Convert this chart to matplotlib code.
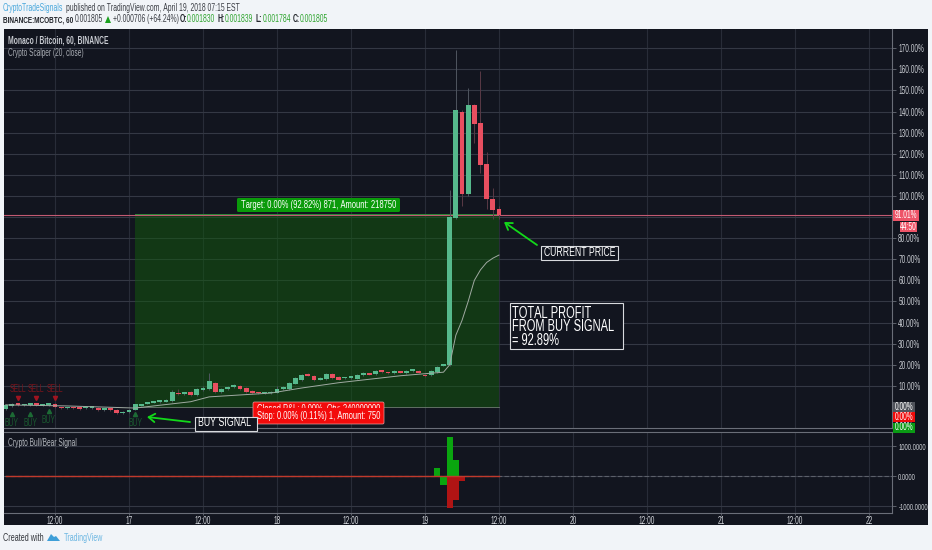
import matplotlib
matplotlib.use("Agg")
import matplotlib.pyplot as plt
from matplotlib.patches import Rectangle, FancyBboxPatch, Polygon
from matplotlib import font_manager as fm

# the reference text is strongly condensed: build a narrow face from Liberation Sans
def make_narrow(style, path, scale=.68):
    from fontTools.ttLib import TTFont
    from fontTools.ttLib.tables._g_l_y_f import GlyphCoordinates
    src = fm.findfont(fm.FontProperties(family='Liberation Sans', weight=style), fallback_to_default=False)
    f = TTFont(src)
    glyf = f['glyf']
    for name in glyf.keys():
        g = glyf[name]
        if g.isComposite():
            for comp in g.components:
                comp.x = int(comp.x * scale)
        elif g.numberOfContours > 0:
            g.coordinates = GlyphCoordinates([(int(x * scale), y) for x, y in g.coordinates])
            g.program = type(g.program)() if hasattr(g, 'program') else None
            g.program.fromBytecode(b'')
    hm = f['hmtx'].metrics
    for name, (adv, lsb) in list(hm.items()):
        hm[name] = (int(adv * scale), int(lsb * scale))
    for tab in ('fpgm', 'prep', 'cvt ', 'hdmx', 'VDMX', 'LTSH', 'kern', 'GPOS', 'GSUB', 'GDEF'):
        if tab in f:
            del f[tab]
    nm = f['name']
    nm.names = [n for n in nm.names if n.nameID not in (16, 17, 21, 22)]
    for n in list(nm.names):
        if n.nameID == 1:
            n.string = 'TVNarrow'
        elif n.nameID == 4:
            n.string = 'TVNarrow ' + style
        elif n.nameID == 6:
            n.string = 'TVNarrow-' + style
    f.save(path)
    fm.fontManager.addfont(path)

try:
    make_narrow('regular', 'tvnarrow.ttf')
    make_narrow('bold', 'tvnarrow-bold.ttf')
    FONT = 'TVNarrow'
    SC = 1.0
except Exception:
    FONT = 'Lato'
    SC = .72
plt.rcParams['font.family'] = [FONT, 'DejaVu Sans']

# ---------- data ----------
hours = list(range(-20, 61))
opens = [-1, .5, 1.4, .8, .9, 1.5, .7, .9, 1.6, -.1, -.7, -.2, -.3, -.6, -.5, -.3, -1.4, -1.2, -1.4, -3, -2.5,
         -1.2, .6, 1.5, 2, 2.3, 2.6, 2.8, 6.6, 6.2, 7, 5.8, 8, 8.5, 11.4, 7, 8.5, 9.5, 10, 9, 7.5,
         6.6, 6.5, 6.5, 6.7, 8.5, 8.5, 11, 12.8, 15, 14.7, 13, 13.3, 15.6, 14.3, 13.6, 13.8, 13.5, 15, 15.7, 15.5,
         17, 16.4, 16, 16.8, 16, 17, 17.2, 15.3, 15, 16.5, 19.5, 20, 89.5, 140, 101, 143, 134.6, 115, 98.6, 94]
closes = [1, 1.6, 1, 1.2, 1.4, .9, 1.2, 1.2, -.2, -.6, -.2, -.7, -.8, -.1, -.2, -1.6, -1, -1.5, -2.8, -2.5, -1.2,
          1.2, 1.3, 2.2, 2.6, 3, 3.2, 7, 6, 6.7, 5.8, 8.5, 9, 12.3, 7, 8.5, 9.5, 10, 8.5, 7, 6.5,
          6.4, 6.8, 7, 8.5, 9.5, 11.4, 13.7, 15, 14.9, 12.8, 13.7, 15.6, 13.8, 13, 14, 14.2, 15, 16, 15.3, 17,
          16.5, 16, 17, 16.2, 17.2, 17.2, 16.2, 14.5, 17, 19, 20, 90, 140.8, 101, 143, 134, 114.7, 98.6, 93.4, 91]
highs = [1.5, 2, 1.8, 1.5, 1.8, 2, 1.6, 1.8, 2, 0, 0, 0, 0, .3, .2, 0, -.6, -.9, -1, -2, -.8,
         1.6, 1.6, 2.6, 3, 3.4, 3.6, 8, 8.5, 7.2, 7.4, 9, 10, 16, 12, 9, 10, 11, 10.5, 9.5, 8,
         7, 7.2, 7.6, 10, 10, 12, 14.2, 15.6, 16, 15.2, 14.2, 16.2, 16, 14.8, 14.4, 14.6, 15.5, 16.5, 16.2, 17.4,
         17.4, 16.8, 17.4, 17.2, 17.6, 17.6, 17.6, 15.6, 17.4, 19.4, 20.4, 103, 169, 140.5, 151, 143.5, 159, 121, 104, 95]
lows = [-1.5, .2, .6, .5, .6, .5, .3, .5, -.6, -.9, -1, -1, -1.2, -1, -.8, -2, -1.7, -1.8, -3.2, -3.3, -2.8,
        -1.6, .3, 1.2, 1.7, 2, 2.3, 2.5, 5.6, 5.8, 5.4, 5.4, 7.6, 8, 6.5, 6.6, 8.2, 9.2, 8.2, 6.6, 6.1,
        6, 6.2, 6.2, 6.4, 8.2, 8.2, 10.7, 12.4, 14.6, 12.4, 12.7, 13, 13.4, 12.7, 13.3, 13.5, 13.2, 14.7, 15, 15.2,
        16.2, 15.7, 15.7, 15.9, 15.7, 16.7, 15.9, 14.2, 14.6, 16.2, 19.2, 19.6, 89, 95, 100, 125, 111, 94, 89, 89]
signal_h = [-20, -10, 1, 10, 13, 23, 28, 34, 44, 51, 52, 53, 54, 55, 56, 57, 58, 59, 60]
signal_pct = [1, .5, -.5, 2.5, 4.8, 6.6, 9, 11.5, 14.8, 16.5, 20, 34, 41, 50, 60, 65, 68.5, 70.5, 72]
bar_h = [50, 51, 52, 53, 54]
bull = [280, -300, 1300, 530, 0]
bear = [0, 0, -1050, -800, -170]
line_h = [-20, 60]
line_v = [0, 0]
sell_h = [-18, -15, -12]
buy_h = [-19, -16, -13, 1]
buy_levels = [-3.5, -3.5, -2, -3.5]
entry_h, exit_h = 1, 60
target_pct, entry_pct, current_pct = 91.01, 0, 91.01
y_ticks = list(range(10, 180, 10))
y_labels = ['' if v == 90 else f'{v}.00%' for v in y_ticks]
sub_ticks = [-1000, 0, 1000]
x_ticks = [-12, 0, 12, 24, 36, 48, 60, 72, 84, 96, 108, 120]
x_labels = ['12:00', '17', '12:00', '18', '12:00', '19', '12:00', '20', '12:00', '21', '12:00', '22']

# ---------- layout helpers ----------
W, H = 932, 550
UP, DOWN = '#56b98c', '#e84f60'
BG, GRID, HGRID = '#12151f', '#282c38', '#343844'
TXT = '#c9ccd2'
def rect(l, t, r, b):
    return [l / W, 1 - b / H, (r - l) / W, (b - t) / H]

fig = plt.figure(figsize=(W / 100, H / 100), dpi=100, facecolor='#f1f4f8')
bgax = fig.add_axes(rect(4, 29, 928, 525), facecolor=BG, zorder=0)
bgax.set_xticks([]); bgax.set_yticks([])
for s in bgax.spines.values():
    s.set_visible(False)

ax = fig.add_axes(rect(4, 29, 892, 428), facecolor='none', zorder=1)
sub = fig.add_axes(rect(4, 432, 892, 512.7), facecolor='none', zorder=1)
XL = (-20.27, 123.73)
ax.set_xlim(*XL); ax.set_ylim(-9.95, 179.1)
sub.set_xlim(*XL); sub.set_ylim(-1223, 1467)

for a in (ax, sub):
    a.spines['left'].set_visible(False)
    for k in ('right', 'bottom', 'top'):
        a.spines[k].set_color('#6a6e78'); a.spines[k].set_linewidth(.8)
    a.yaxis.tick_right()
    a.set_xticks(x_ticks)
    a.grid(True, axis='x', color=GRID, lw=.8, zorder=0)
    a.grid(True, axis='y', color=HGRID, lw=.8, zorder=0)
    a.set_axisbelow(True)
    a.tick_params(axis='y', colors=TXT, labelsize=6.9 * SC, length=3, width=.6, pad=1.5, color='#6a6e78')
ax.spines['top'].set_visible(False)

ax.set_yticks(y_ticks)
ax.set_yticklabels(y_labels)
ax.tick_params(axis='x', length=0, labelbottom=False)
sub.set_yticks(sub_ticks)
sub.set_yticklabels([f'{v}.0000' for v in sub_ticks])
sub.tick_params(axis='y', labelsize=6.2 * SC)
sub.set_xticklabels(x_labels)
sub.tick_params(axis='x', colors='#d5d8dd', labelsize=6.9 * SC, length=1.5, width=.6, pad=.8, color='#6a6e78')

# trade zone
ax.add_patch(Rectangle((entry_h, entry_pct), exit_h - entry_h, target_pct, facecolor='#125b0d', alpha=.5, lw=0, zorder=1))
ax.axhline(current_pct, color='#c25a72', lw=.8, zorder=1.5)
ax.plot([entry_h, exit_h], [target_pct + .6] * 2, color='#2f8a3a', lw=.7, zorder=1.5)
ax.plot([entry_h, exit_h], [entry_pct] * 2, color='#6d7f70', lw=.6, zorder=1.5)

# candles
for h, o, c, hi, lo in zip(hours, opens, closes, highs, lows):
    up = c >= o
    ax.plot([h, h], [lo, hi], color='#4f5660' if up else '#5a3a46', lw=.7, zorder=2, solid_capstyle='butt')
    ax.add_patch(Rectangle((h - .38, min(o, c)), .76, max(abs(c - o), .8), facecolor=UP if up else DOWN, lw=0, zorder=3))
ax.plot(signal_h, signal_pct, color='#a0aaa2', lw=.7, zorder=4)

# buy / sell markers
for h in sell_h:
    ax.plot(h, 4.3, marker='v', ms=3, color='#a01420', zorder=4)
    ax.text(h, 8.6, 'SELL', color='#7a141c', fontsize=7.2 * SC, ha='center', va='center')
for h, lv in zip(buy_h, buy_levels):
    ax.plot(h, lv, marker='^', ms=3, color='#1d6a35', zorder=4)
    ax.text(h, lv - 4.2, 'BUY', color='#1a5a30', fontsize=7.2 * SC, ha='center', va='center')

# lower pane
sub.axhline(0, color='#5c606a', lw=.8, ls=(0, (4, 2)), zorder=1)
sub.bar(bar_h, bull, width=1, color='#0aa50f', zorder=2)
sub.bar(bar_h, bear, width=1, color='#b01414', zorder=2)
sub.plot(line_h, line_v, color='#c0392b', lw=1, zorder=3)

# overlay in pixels for annotations
ov = fig.add_axes([0, 0, 1, 1], facecolor='none', zorder=5)
ov.set_xlim(0, W); ov.set_ylim(H, 0); ov.axis('off')

def T(x, y, s, **k):
    k.setdefault('va', 'center'); k.setdefault('ha', 'left')
    k['fontsize'] = k.get('fontsize', 8) * SC
    return ov.text(x, y, s, **k)

# header
HS = 7.2
T(3, 8, 'CryptoTradeSignals', color='#4aa8dc', fontsize=HS)
T(66, 8, 'published on TradingView.com, April 19, 2018 07:15 EST', color='#3a3d44', fontsize=HS)
T(3, 19.5, 'BINANCE:MCOBTC, 60', color='#22252b', fontsize=6.8, fontweight='bold')
T(75, 19.5, '0.001805', color='#3a3d44', fontsize=HS)
ov.add_patch(Polygon([[105, 23], [111, 23], [108, 16]], color='#1aa01e', lw=0))
T(113, 19.5, '+0.000706 (+64.24%)', color='#3a3d44', fontsize=HS)
xs = [180, 218, 256, 293]
labs = ['O:', 'H:', 'L:', 'C:']
vals = ['0.001830', '0.001839', '0.001784', '0.001805']
for x, l, v in zip(xs, labs, vals):
    T(x, 19.5, l, color='#22252b', fontsize=HS, fontweight='bold')
    T(x + 7, 19.5, v, color='#2fa52f', fontsize=HS)

# pane titles
T(8, 40.5, 'Monaco / Bitcoin, 60, BINANCE', color='#c9ccd2', fontsize=7.1, fontweight='bold')
T(8, 52.5, 'Crypto Scalper (20, close)', color='#a9adb4', fontsize=6.9)
T(8, 443.5, 'Crypto Bull/Bear Signal', color='#b4b8be', fontsize=7)

# footer
T(3, 538, 'Created with', color='#33363c', fontsize=7.7)
ov.add_patch(Polygon([[47, 541], [51, 534], [54, 537], [56, 536], [60, 541]], color='#3f9fd8', lw=0))
T(64, 538, 'TradingView', color='#6db7e2', fontsize=7.5)

# price tags
def tag(x0, x1, y, s, fc, h=10):
    ov.add_patch(Rectangle((x0, y - h / 2), x1 - x0, h, facecolor=fc, lw=0, zorder=6))
    T((x0 + x1) / 2, y, s, color='white', fontsize=7, ha='center', zorder=7)
tag(893, 919, 215, '91.01%', '#ee5468', 11)
tag(900, 917, 226.5, '44:50', '#ee5468', 10)
tag(893, 915, 407, '0.00%', '#50535b', 10)
tag(893, 915, 417, '0.00%', '#f00a0a', 10)
tag(893, 915, 427.5, '0.00%', '#0a9a14', 10)

# trade labels
ov.add_patch(FancyBboxPatch((237, 198), 163, 14, boxstyle='round,pad=0,rounding_size=1.5', facecolor='#0a9a0a', lw=0, zorder=6))
T(318.5, 205, 'Target: 0.00% (92.82%) 871, Amount: 218750', color='white', fontsize=8, ha='center', zorder=7)
ov.add_patch(FancyBboxPatch((253, 402), 131, 22, boxstyle='round,pad=0,rounding_size=1.5', facecolor='#f30b0b', edgecolor='#e8a0a0', lw=.5, zorder=6))
T(318.5, 408.5, 'Closed P&L: 0.00%, Qty: 240000000', color='white', fontsize=8, ha='center', zorder=7)
ov.add_patch(Rectangle((254, 408.3), 129, 15, facecolor='#f30b0b', lw=0, zorder=8))
T(318.5, 416, 'Stop: 0.00% (0.11%) 1, Amount: 750', color='white', fontsize=8, ha='center', zorder=9)

# call-outs
def box(x0, y0, x1, y1, lines, size, first_y, lh):
    ov.add_patch(Rectangle((x0, y0), x1 - x0, y1 - y0, facecolor=BG, edgecolor='#d8dade', lw=.8, zorder=10))
    for i, s in enumerate(lines):
        T(x0 + 2.5, first_y + lh * i, s, color='white', fontsize=size, zorder=11)
box(195, 417, 257, 431, ['BUY SIGNAL'], 9.4, 423.5, 0)
box(541, 246, 618, 260, ['CURRENT PRICE'], 9.2, 253, 0)
box(510, 303, 623, 349, ['TOTAL PROFIT', 'FROM BUY SIGNAL', '= 92.89%'], 11.8, 313, 13.6)

for tip, tail in (((147, 417), (190, 422)), ((504, 222), (537, 245))):
    ov.annotate('', xy=tip, xytext=tail, zorder=9,
                arrowprops=dict(arrowstyle='->,head_length=.45,head_width=.3', color='#12d81a', lw=1.3, shrinkA=0, shrinkB=0))

fig.savefig('out.png', dpi=100, facecolor=fig.get_facecolor())
